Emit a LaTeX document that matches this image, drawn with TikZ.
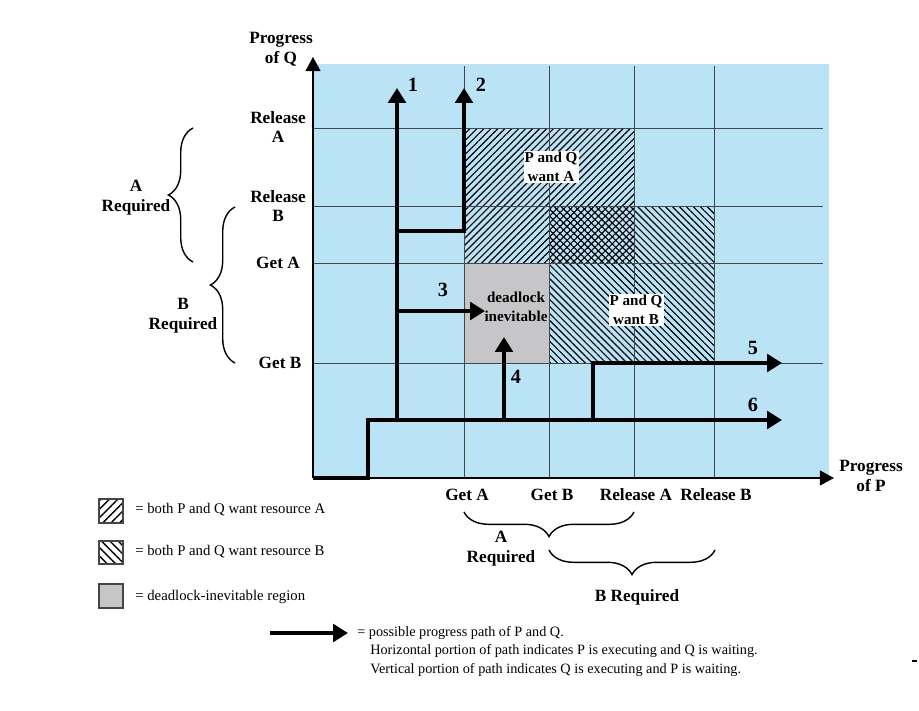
\documentclass[tikz,border=0pt]{standalone}
\usepackage{fontspec}
\setmainfont{Liberation Serif}
\usetikzlibrary{arrows.meta,patterns.meta,decorations.pathreplacing}
\definecolor{chartblue}{RGB}{186,227,246}
\definecolor{lockgray}{RGB}{198,198,200}
\definecolor{gridgray}{RGB}{70,70,70}

\begin{document}
\begin{tikzpicture}[x=0.02cm,y=-0.02cm,
  every node/.style={inner sep=0pt,align=center},
  axislabel/.style={font=\fontsize{9.8}{11.3}\selectfont\bfseries},
  regionlabel/.style={font=\fontsize{8.6}{10.5}\selectfont\bfseries},
  pathnum/.style={font=\fontsize{11.5}{13}\selectfont\bfseries},
  legendtext/.style={font=\fontsize{8.4}{10.8}\selectfont,anchor=west,align=left},
  notetext/.style={font=\fontsize{8.1}{10.8}\selectfont,anchor=west,align=left},
  gridline/.style={gridgray,line width=0.5pt},
  axisarrow/.style={line width=0.6pt,-{Triangle[length=8pt,width=8.5pt]}},
  progress/.style={line width=2.3pt,-{Triangle[length=8.5pt,width=10pt]}},
  hatchA/.style={pattern={Lines[angle=45,distance=2.8pt,line width=0.65pt]}},
  hatchB/.style={pattern={Lines[angle=-45,distance=2.8pt,line width=0.65pt]}},
  keyA/.style={pattern={Lines[angle=45,distance=3.4pt,line width=0.8pt]}},
  keyB/.style={pattern={Lines[angle=-45,distance=3.4pt,line width=0.8pt]}},
  curly/.style={decorate,decoration={brace,amplitude=14pt},line width=0.8pt}]
\useasboundingbox (0,0) rectangle (919,710);

\fill[chartblue] (313,64) rectangle (829,478);
\fill[lockgray] (464,263) rectangle (549,363);
\fill[hatchA] (464,128) rectangle (634,263);
\fill[hatchB] (549,206) rectangle (714,363);
\foreach \gx in {464,549,634,714} \draw[gridline] (\gx,66) -- (\gx,478);
\foreach \gy in {128,206,263,363} \draw[gridline] (313,\gy) -- (823,\gy);

\draw[axisarrow] (313,478) -- (313,57);
\draw[axisarrow] (313,478) -- (834,478);

\draw[progress] (313,478) -| (368,420) -- (782,420);
\draw[progress] (397,420) -- (397,88);
\draw[progress] (397,231) -| (464,88);
\draw[progress] (397,311) -- (485,311);
\draw[progress] (504,420) -- (504,337);
\draw[progress] (593,420) |- (782,363);

\node[pathnum] (n1) at (413,85) {1};
\node[pathnum] (n2) at (481,85) {2};
\node[pathnum] (n3) at (443,290) {3};
\node[pathnum] (n4) at (516,377) {4};
\node[pathnum] (n5) at (753,348) {5};
\node[pathnum] (n6) at (753,405) {6};

\node[regionlabel,fill=white,inner sep=0.6pt] (wantA) at (551,167) {P and Q\\want A};
\node[regionlabel] (dead) at (516,307) {deadlock\\inevitable};
\node[regionlabel,fill=white,inner sep=0.6pt] (wantB) at (636,310) {P and Q\\want B};

\node[axislabel] (progQ) at (281,49) {Progress\\of Q};
\node[axislabel] (relA) at (278,127) {Release\\A};
\node[axislabel] (relB) at (278,206) {Release\\B};
\node[axislabel] (getA) at (278,263) {Get A};
\node[axislabel] (getB) at (280,363) {Get B};

\node[axislabel] (progP) at (871,476) {Progress\\of P};
\node[axislabel] (pgetA) at (467,495) {Get A};
\node[axislabel] (pgetB) at (552,495) {Get B};
\node[axislabel] (prelA) at (636,495) {Release A};
\node[axislabel] (prelB) at (716,495) {Release B};

\draw[curly] (193,262) -- (193,128);
\draw[curly] (235,363) -- (235,207);
\node[axislabel] (reqA) at (136,198) {A\\Required};
\node[axislabel] (reqB) at (183,316) {B\\Required};

\draw[curly] (634,512) -- (464,512);
\draw[curly] (715,550) -- (549,550);
\node[axislabel] (preqA) at (501,549) {A\\Required};
\node[axislabel] (preqB) at (637,597) {B Required};

\draw[gridgray,line width=0.6pt,keyA] (99,499) rectangle (123,523);
\draw[gridgray,line width=0.6pt,keyB] (99,541) rectangle (123,564);
\draw[gridgray,line width=0.6pt,fill=lockgray] (99,584) rectangle (123,608);
\node[legendtext] (keyAtext) at (135,510) {= both P and Q want resource A};
\node[legendtext] (keyBtext) at (135,552) {= both P and Q want resource B};
\node[legendtext] (keyCtext) at (135,597) {= deadlock-inevitable region};

\draw[progress] (270,633) -- (348,633);
\node[notetext] (keyPath) at (357,633) {= possible progress path of P and Q.};
\node[notetext] (keyNote) at (370,661) {Horizontal portion of path indicates P is executing and Q is waiting.\\
Vertical portion of path indicates Q is executing and P is waiting.};

\draw[line width=0.6pt] (912,661) -- (917,661);
\end{tikzpicture}
\end{document}
